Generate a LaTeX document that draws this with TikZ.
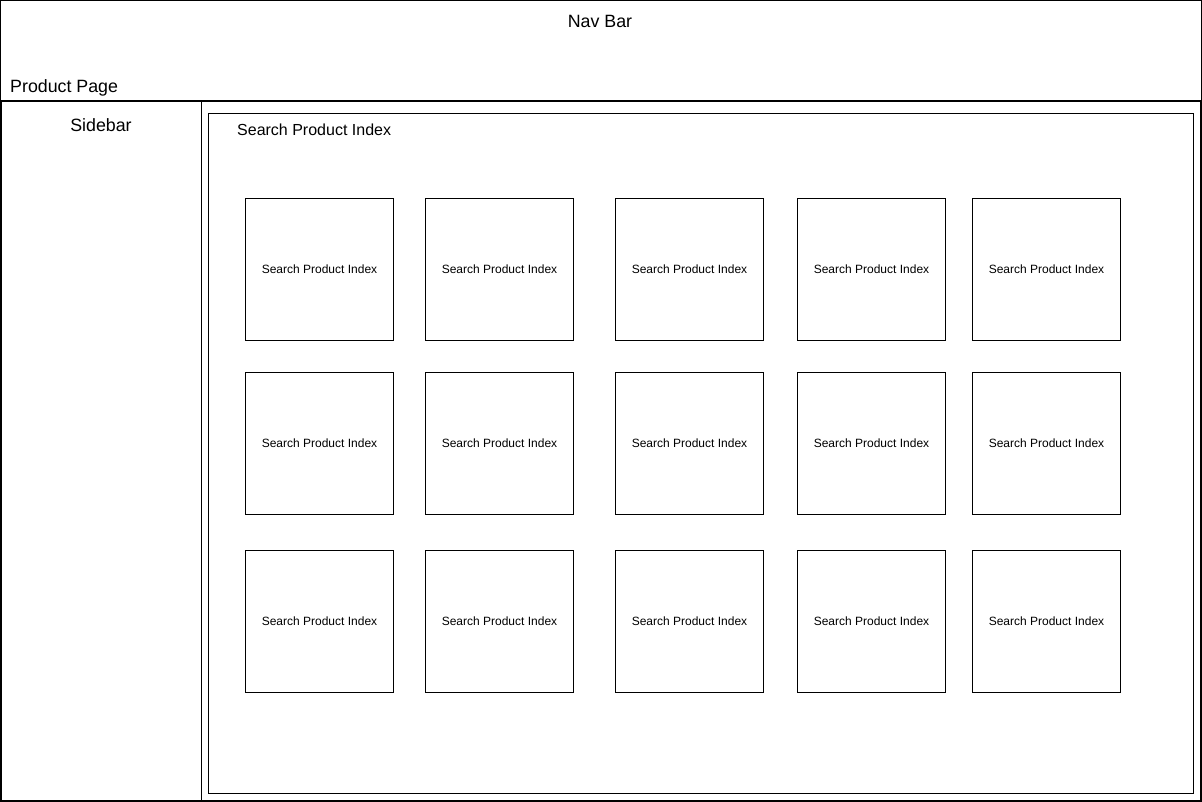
\documentclass[tikz,border=0pt]{standalone}
\usepackage{fontspec}
\setmainfont{Liberation Sans}
\begin{document}
\begin{tikzpicture}[x=1pt,y=-1pt,
  thinbox/.style={draw=black,line width=1pt},
  thickbox/.style={draw=black,line width=2pt},
  card/.style={draw=black,line width=1pt,minimum width=148pt,minimum height=142pt,inner sep=0pt,font=\fontsize{12}{14}\selectfont,anchor=north west},
  bigtext/.style={font=\fontsize{17.8}{21}\selectfont,inner sep=0pt},
  midtext/.style={font=\fontsize{16}{19}\selectfont,inner sep=0pt}]
\useasboundingbox (0,0) rectangle (1202,802);
\fill[white] (0,0) rectangle (1202,802);
% nav bar
\draw[thinbox] (0.5,0.5) rectangle (1201.5,101);
\node[bigtext] (nav) at (600,21.5) {Nav Bar};
\node[bigtext,anchor=west] (pp) at (10,87.5) {Product Page};
% product page lower area
\draw[thickbox] (1,101) rectangle (1201,801);
% sidebar
\draw[thinbox] (1,101) rectangle (201.5,801);
\node[bigtext] (sb) at (101,125) {Sidebar};
% search index container
\draw[thinbox] (208.5,113.5) rectangle (1193.5,793.5);
\node[midtext,anchor=west] (spi) at (237,129.5) {Search Product Index};
% cards
\foreach \cx [count=\i] in {245,425,615,797,972}{
  \foreach \cy [count=\j] in {198.2,372.2,550.2}{
    \node[card] (c\i\j) at (\cx,\cy) {Search Product Index};
  }
}
\end{tikzpicture}
\end{document}
